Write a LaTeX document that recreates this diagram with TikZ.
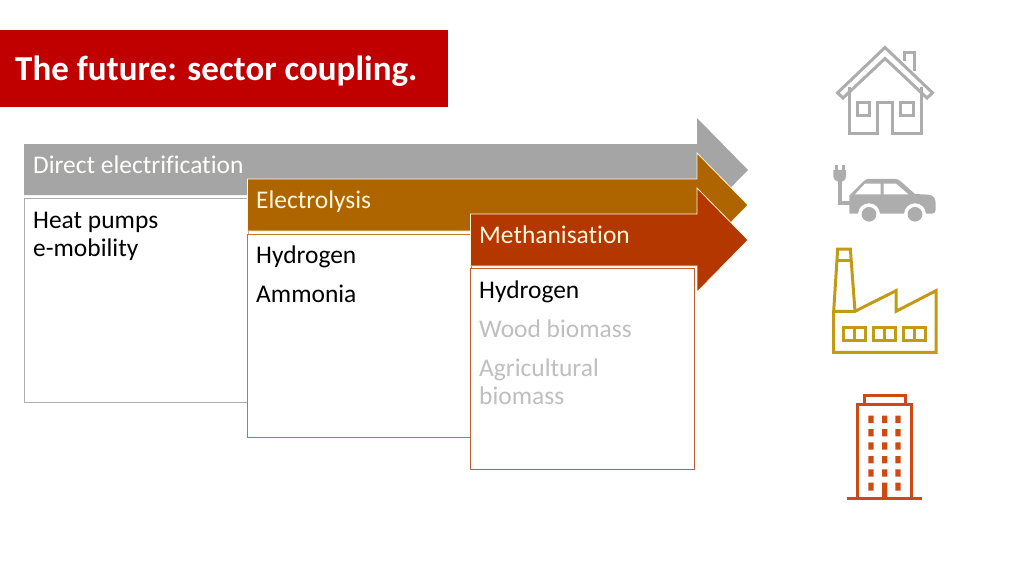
\documentclass[tikz,border=0pt]{standalone}
\usepackage{fontspec}
\setmainfont{Carlito}[Ligatures={TeX,NoCommon}]
\definecolor{titlered}{HTML}{C00000}
\definecolor{arrgray}{HTML}{A5A5A5}
\definecolor{arrorange}{HTML}{AE6500}
\definecolor{arrred}{HTML}{B43700}
\definecolor{cream}{HTML}{FFF6DC}
\definecolor{icongray}{HTML}{ADADAD}
\definecolor{icongold}{HTML}{C39A14}
\definecolor{iconred}{HTML}{CE4A12}
\definecolor{fade}{HTML}{BFBFBF}
\tikzset{
  x=1pt,y=-1pt,
  flow/.style={draw=cream,line width=0.8pt,line join=miter},
  panel/.style={fill=white,line width=1pt},
  lab/.style={anchor=base west,inner sep=0pt,font=\fontsize{25.45}{30}\selectfont},
  ico/.style={line width=3pt,line join=miter},
}
\begin{document}
\begin{tikzpicture}
\useasboundingbox (0,0) rectangle (1024,576);
% title
\fill[titlered] (0,30) rectangle (447.5,107);
\node[lab,text=white,font=\fontsize{35}{40}\selectfont\bfseries] (title) at (15,80) {The future: sector coupling.};
% gray
\fill[arrgray] (24,144) -- (697,144) -- (697,118) -- (748,170) -- (697,222) -- (697,195) -- (24,195) -- cycle;
\draw[panel,draw=arrgray!90!white] (24,198) rectangle (248,402);
\node[lab,text=white!96!cream] (t1) at (33,173) {Direct electrification};
\node[lab] (h1) at (33,228) {Heat pumps};
\node[lab] (h2) at (33,256) {e-mobility};
% orange
\filldraw[flow,fill=arrorange] (247.5,179) -- (697,179) -- (697,153) -- (748,205) -- (697,257) -- (697,231) -- (247.5,231) -- cycle;
\draw[panel,draw=arrorange!85!white] (247.5,234) rectangle (471,437);
\node[lab,text=cream] (t2) at (256,208) {Electrolysis};
\node[lab] (o1) at (256,263) {Hydrogen};
\node[lab] (o2) at (256,302) {Ammonia};
% red
\filldraw[flow,fill=arrred] (470.5,214) -- (697,214) -- (697,188) -- (748,240) -- (697,292) -- (697,266) -- (470.5,266) -- cycle;
\draw[panel,draw=arrred!80!white] (470.5,268) rectangle (694,469);
\node[lab,text=cream] (t3) at (479,243) {Methanisation};
\node[lab] (r1) at (479,298) {Hydrogen};
\node[lab,text=fade] (r2) at (479,337) {Wood biomass};
\node[lab,text=fade] (r3) at (479,376) {Agricultural};
\node[lab,text=fade] (r4) at (479,404) {biomass};
% house
\begin{scope}[ico,draw=icongray]
\draw (885,47.5) -- (932.5,92.8) -- (927,98) -- (885,58.5) -- (843,98) -- (837.5,92.8) -- cycle;
\draw (849.5,87) -- (849.5,133) -- (877.5,133) -- (877.5,102) -- (892,102) -- (892,133) -- (921,133) -- (921,87);
\draw (904,61) -- (904,52) -- (914,52) -- (914,71);
\draw (857,102.5) rectangle (869.5,115);
\draw (900.5,102.5) rectangle (913,115);
\end{scope}
% car
\begin{scope}[shift={(820,30)},x=0.3333pt,y=-0.3333pt]
\fill[icongray] (88,497) -- (132,453) .. controls (136,449) and (140,447) .. (146,447) -- (225,447) .. controls (232,447) and (236,449) .. (242,454) -- (285,492) -- (325,494) .. controls (340,495) and (347,505) .. (347,520) -- (347,540) .. controls (347,548) and (342,551) .. (335,551) -- (88,551) -- cycle;
\fill[white] (105,493) -- (135,461) -- (182,461) -- (182,493) -- cycle;
\fill[white] (191,461) -- (228,461) -- (265,493) -- (191,493) -- cycle;
\fill[white] (147,553) circle (33);
\fill[white] (285,553) circle (33);
\fill[icongray] (147,553) circle (22);
\fill[icongray] (285,553) circle (22);
\draw[icongray,line width=4pt] (60,445) -- (60,518) -- (92,518);
\fill[icongray] (40,420) -- (78,420) -- (78,438) .. controls (78,450) and (70,455) .. (60,455) .. controls (50,455) and (40,450) .. (40,438) -- cycle;
\fill[icongray] (46,404) rectangle (54,422);
\fill[icongray] (66,404) rectangle (74,422);
\end{scope}
% factory
\begin{scope}[ico,draw=icongold,shift={(820,235)},x=0.3333pt,y=-0.3333pt]
\draw (41,352) -- (41,229) -- (105,229) -- (228,167) -- (228,229) -- (348,167) -- (348,352) -- cycle;
\draw (41,229) -- (53,42) -- (91,42) -- (105,229);
\draw (52,75) -- (93,75);
\draw (71,277) rectangle (135,317);
\draw (103,277) -- (103,317);
\draw (161,277) rectangle (225,317);
\draw (193,277) -- (193,317);
\draw (251,277) rectangle (317,317);
\draw (284,277) -- (284,317);
\end{scope}
% building
\begin{scope}[shift={(830,385)},x=0.3333pt,y=-0.3333pt]
\begin{scope}[ico,draw=iconred]
\draw (52,342) -- (276,342);
\draw (82,342) -- (82,57) -- (245,57) -- (245,342);
\draw (102,57) -- (102,32) -- (226,32) -- (226,57);
\end{scope}
\fill[iconred] (115,92) rectangle (131,114) (156,92) rectangle (172,114) (196,92) rectangle (212,114);
\fill[iconred] (115,132) rectangle (131,154) (156,132) rectangle (172,154) (196,132) rectangle (212,154);
\fill[iconred] (115,172) rectangle (131,194) (156,172) rectangle (172,194) (196,172) rectangle (212,194);
\fill[iconred] (115,213) rectangle (131,235) (156,213) rectangle (172,235) (196,213) rectangle (212,235);
\fill[iconred] (115,253) rectangle (131,275) (156,253) rectangle (172,275) (196,253) rectangle (212,275);
\fill[iconred] (115,293) rectangle (131,317) (156,293) rectangle (172,342) (196,293) rectangle (212,317);
\end{scope}
\end{tikzpicture}
\end{document}
